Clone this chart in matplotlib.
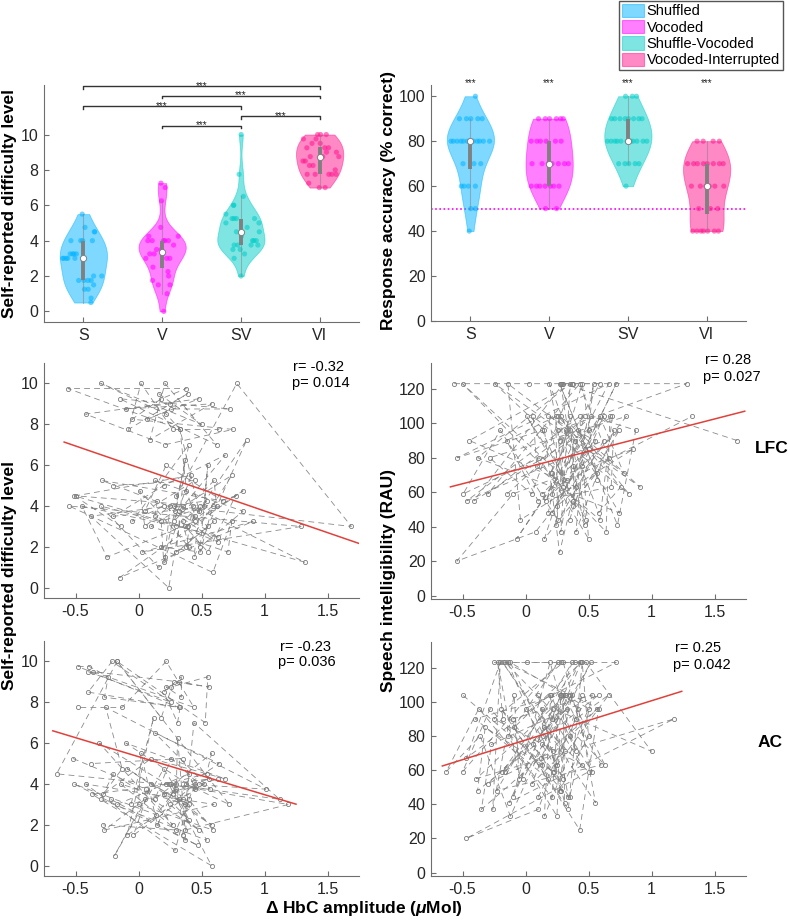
import numpy as np
import matplotlib
matplotlib.use('Agg')
import matplotlib.pyplot as plt
from matplotlib.patches import Patch

plt.rcParams['font.family'] = ['Liberation Sans', 'DejaVu Sans']
plt.rcParams['mathtext.fontset'] = 'custom'
plt.rcParams['mathtext.it'] = 'Liberation Sans:italic:bold'
plt.rcParams['mathtext.rm'] = 'Liberation Sans:bold'

# ---------------- data ----------------
conditions = ['S', 'V', 'SV', 'VI']
legend_labels = ['Shuffled', 'Vocoded', 'Shuffle-Vocoded', 'Vocoded-Interrupted']
cond_colors = ['#00b3ff', '#ff00ff', '#00ccc7', '#ff148c']

# self-reported difficulty per subject (28 subjects)
diff_S = [3.0, 4.5, 1.25, 4.0, 2.0, 5.5, 3.0, 1.75, 3.25, 0.75, 4.0, 3.0, 1.75, 3.25, 0.5, 4.75, 3.25, 1.5,
          4.0, 3.0, 1.25, 3.25, 4.5, 1.75, 3.0, 4.0, 1.75, 2.0]
diff_V = [3.25, 1.0, 4.0, 2.5, 3.75, 6.25, 1.75, 3.0, 4.0, 0.0, 3.5, 4.25, 3.0, 7.25, 1.5, 4.0, 3.25, 2.0, 4.75,
          3.0, 4.0, 1.5, 7.0, 3.25, 4.0, 2.25, 3.5, 4.25]
diff_SV = [5.25, 3.75, 2.0, 6.0, 4.0, 4.5, 5.5, 3.25, 5.25, 4.0, 3.5, 5.0, 6.5, 3.75, 4.5, 10.0, 3.0, 4.0, 3.75,
           7.75, 4.75, 3.5, 5.25, 4.25, 6.0, 3.75, 5.25, 5.0]
diff_VI = [9.5, 8.0, 10.0, 8.5, 7.75, 9.75, 9.75, 9.25, 8.25, 7.75, 7.0, 8.5, 9.25, 8.25, 8.75, 8.75, 9.25, 7.0,
           10.0, 7.25, 9.0, 8.75, 9.0, 9.5, 7.75, 10.0, 7.75, 7.75]

# response accuracy (% correct)
acc_S = [40, 50, 50, 60, 60, 60, 60, 70, 70, 70] + [80] * 12 + [90] * 5 + [100]
acc_V = [50] * 2 + [60] * 7 + [70] * 7 + [80] * 6 + [90] * 6
acc_SV = [60] + [70] * 5 + [80] * 11 + [90] * 8 + [100] * 3
acc_VI = [40] * 7 + [50] * 3 + [60] * 6 + [70] * 8 + [80] * 4

# speech intelligibility (RAU)
rau_S = [123, 123, 123, 123, 123, 71, 96, 41, 90, 55, 104, 33, 80, 59, 96, 44, 104, 90, 55, 63, 96, 37, 75,
         104, 48, 85, 59, 104]
rau_V = [90, 123, 55, 104, 37, 123, 67, 104, 44, 96, 59, 123, 80, 33, 104, 90, 123, 48, 63, 104, 41, 96, 80,
         123, 59, 96, 52, 71]
rau_SV = [59, 104, 96, 41, 123, 71, 52, 123, 85, 25, 96, 123, 63, 104, 48, 80, 123, 37, 96, 59, 104, 75, 44,
          104, 90, 55, 123, 67]
rau_VI = [44, 90, 104, 63, 96, 123, 123, 75, 55, 123, 96, 33, 104, 71, 123, 44, 85, 59, 20, 37, 104, 80, 59,
          123, 90, 63, 104, 48]

# Delta HbC amplitude, LFC (difficulty panel)
lfc_S = [-0.14, -0.51, 1.32, 0.43, 0.38, 0.74, 0.10, 0.71, 0.74, 0.59, -0.55, 1.29, 0.03, 0.91, -0.15, 0.83,
         0.45, -0.25, -0.45, 0.30, 0.20, 0.18, 0.77, 0.55, 0.37, 0.59, 0.49, 0.18]
lfc_V = [0.60, 0.16, -0.30, 0.63, 0.29, 0.37, 0.30, 0.55, 0.35, 0.24, -0.38, 0.54, 0.39, 0.86, 0.44, 0.49,
         0.35, 0.40, 0.01, 0.05, 0.25, 0.21, 0.40, -0.05, 0.20, 0.63, 0.13, 0.15]
lfc_SV = [0.13, 0.83, 0.49, 0.55, 0.52, -0.50, 0.42, 0.28, 0.60, 0.62, -0.20, 0.20, 0.69, 0.32, 0.30, 0.78,
          1.69, 0.28, 0.48, 0.33, 0.38, 0.45, -0.29, 0.67, 0.22, 0.05, 0.45, -0.20]
lfc_VI = [0.16, 0.50, -0.30, 0.22, 0.33, -0.56, 0.38, 0.18, -0.05, 0.75, 0.21, -0.42, 0.48, 0.07, 0.26, 0.73,
          -0.15, 0.62, 0.21, 0.09, 0.58, -0.10, 0.25, 0.39, -0.08, 0.02, 0.27, 0.64]

# Delta HbC amplitude, AC (difficulty panel)
ac_S = [-0.17, 0.40, 0.37, 0.30, 0.15, 0.02, 0.00, 0.59, 0.40, 0.29, -0.42, 0.60, -0.27, 0.05, -0.19, 0.20,
        0.35, -0.04, 0.10, 0.40, 0.54, -0.30, -0.20, 0.48, 0.25, 0.45, 0.30, -0.28]
ac_V = [-0.22, 0.47, -0.51, 0.14, 0.30, 0.31, 0.37, 1.19, 0.24, 0.58, -0.37, 0.56, -0.06, 0.12, -0.09, 0.52,
        0.32, 0.58, -0.09, 0.37, -0.14, 0.35, 0.44, 1.12, 0.26, 0.40, 0.20, 0.63]
ac_SV = [-0.52, 0.06, 0.27, -0.31, 0.22, 0.54, 0.58, 0.13, 0.26, 0.48, 0.27, 0.64, 0.13, 0.57, -0.65, -0.17,
         0.72, 0.38, 1.01, -0.26, -0.13, -0.28, 0.10, 0.69, -0.10, 0.45, 0.35, -0.38]
ac_VI = [-0.40, 0.26, -0.21, -0.40, 0.32, -0.48, -0.39, -0.24, -0.27, 0.33, 0.31, 0.20, 0.34, 0.34, 0.22, 0.26,
         0.55, 0.53, -0.17, 0.18, 0.28, 0.56, 0.32, -0.36, 0.44, 0.22, -0.13, -0.48]

# Delta HbC amplitude, LFC (intelligibility panel)
rlfc_S = [-0.566, 0.03, 0.29, 0.38, 0.59, 0.20, 0.32, 0.24, 0.62, -0.466, 0.43, 0.50, 0.11, -0.495, -0.2, 0.255,
          0.24, -0.15, 0.10, 0.68, 0.70, 0.40, 0.45, 0.62, 0.21, 0.50, 0.13, 1.32]
rlfc_V = [1.68, 0.30, -0.41, 0.67, 0.64, -0.50, 0.33, 0.01, 0.48, 0.355, -0.30, 0.43, 0.66, 0.15, 0.47, 0.27,
          0.19, 0.58, 0.755, 0.26, 0.47, 0.13, -0.54, 0.66, 0.21, 0.745, 0.38, 0.21]
rlfc_SV = [-0.145, 0.52, 0.875, 0.73, 0.27, 0.565, 0.25, 0.72, 0.47, 0.27, 0.15, -0.245, 0.91, 0.28, 0.745,
           -0.38, 0.355, 0.28, 0.42, 0.82, 0.06, 0.09, 0.59, 0.69, 0.39, 0.165, 0.45, 0.57]
rlfc_VI = [0.35, 0.555, 0.18, 0.30, 0.255, 1.28, 0.28, 0.38, 0.38, 0.54, 0.50, -0.07, 0.59, 0.78, -0.14, -0.04,
           0.855, -0.10, -0.545, 0.08, 0.80, -0.285, 0.05, 0.37, -0.445, 0.40, 0.35, 0.18]

# Delta HbC amplitude, AC (intelligibility panel)
rac_S = [-0.25, 0.01, 0.28, 0.39, 0.48, 1.00, 0.22, -0.13, 1.18, -0.39, 0.32, -0.12, -0.36, -0.63, -0.37, 0.21,
         0.27, -0.40, 0.18, 0.13, 0.57, -0.35, -0.27, 0.58, -0.38, -0.32, 0.22, -0.5]
rac_V = [-0.18, -0.22, -0.05, -0.09, -0.26, -0.20, -0.47, 0.195, 0.34, -0.28, -0.50, 0.26, -0.14, 0.25, 0.28,
         0.21, 0.37, -0.23, 0.60, 0.30, 0.31, 0.13, 0.14, 0.43, -0.185, 0.33, -0.30, 0.22]
rac_SV = [-0.16, 0.31, 0.42, 0.555, -0.18, 0.31, 0.05, 0.44, -0.09, 0.43, 0.58, -0.16, 0.63, 0.35, 0.27, 0.50,
          0.45, 0.34, -0.195, 0.23, 0.37, 0.06, 0.35, 0.53, -0.10, -0.02, 0.52, 0.12]
rac_VI = [0.10, 0.40, 0.66, 0.25, 0.00, 0.72, -0.14, 0.13, 0.30, -0.12, 0.50, 0.15, 0.20, 0.40, 0.195, -0.10,
          0.15, 0.50, -0.47, 0.10, 0.45, 0.35, 0.53, 0.30, -0.25, 0.45, 0.10, 0.28]

# regression fits (slope, intercept) and stats
fit_lfc_diff = (-2.12, 5.88)
fit_lfc_rau = (18.8, 74.3)
fit_ac_diff = (-1.86, 5.34)
fit_ac_rau = (23.0, 77.6)
stats_lfc_diff = ('r= -0.32', 'p= 0.014')
stats_lfc_rau = ('r= 0.28', 'p= 0.027')
stats_ac_diff = ('r= -0.23', 'p= 0.036')
stats_ac_rau = ('r= 0.25', 'p= 0.042')

# significance comparisons for difficulty
sig_pairs = [(1, 4), (2, 4), (1, 3), (3, 4), (2, 3)]
sig_heights = [12.75, 12.2, 11.6, 11.05, 10.5]

# ---------------- helpers ----------------
W, H = 790, 921
fig = plt.figure(figsize=(W / 100, H / 100), dpi=100)

AX_COL = '#6e6e6e'
TXT_COL = '#262626'
GRAY = (0.5, 0.5, 0.5)
LINE_GRAY = '#8a8a8a'


def px_axes(x0, y0, x1, y1):
    return fig.add_axes([x0 / W, 1 - y1 / H, (x1 - x0) / W, (y1 - y0) / H])


def style(ax):
    for s in ['top', 'right']:
        ax.spines[s].set_visible(False)
    for s in ['left', 'bottom']:
        ax.spines[s].set_color(AX_COL)
        ax.spines[s].set_linewidth(0.8)
    ax.tick_params(direction='in', length=3.5, width=0.8, color=AX_COL, labelcolor=TXT_COL,
                   labelsize=11.5, pad=4)


def kde(data, grid):
    data = np.asarray(data, float)
    n = len(data)
    sig = np.median(np.abs(data - np.median(data))) / 0.6745
    if sig == 0:
        sig = data.std()
    bw = sig * (4.0 / (3 * n)) ** 0.2
    z = (grid[:, None] - data[None, :]) / bw
    return np.exp(-0.5 * z ** 2).sum(1) / (n * bw * np.sqrt(2 * np.pi))


def violin(ax, data, pos, color, width=0.3):
    data = np.asarray(data, float)
    grid = np.linspace(data.min(), data.max(), 200)
    d = kde(data, grid)
    d = d / d.max() * width
    ax.fill_betweenx(grid, pos - d, pos + d, facecolor=color, alpha=0.5, edgecolor=color, lw=0.6, zorder=2)
    dens_at = np.interp(data, grid, d)
    jit = ((np.arange(len(data)) * 0.618034 + 0.3) % 1.0 - 0.5) * 2
    ax.scatter(pos + jit * dens_at * 0.9, data, s=14, color=color, alpha=0.55, edgecolors='none', zorder=3)
    q1, med, q3 = np.percentile(data, [25, 50, 75])
    iqr = q3 - q1
    lo = data[data >= q1 - 1.5 * iqr].min()
    hi = data[data <= q3 + 1.5 * iqr].max()
    ax.plot([pos, pos], [lo, hi], color=GRAY, lw=0.8, alpha=0.5, zorder=4)
    ax.plot([pos, pos], [q1, q3], color=GRAY, lw=2.8, solid_capstyle='butt', zorder=5)
    ax.scatter([pos], [med], s=20, facecolor='white', edgecolor=GRAY, lw=0.7, zorder=6)


def scatter_panel(ax, xs, ys, fit, stats, stat_px):
    # each condition is drawn as one dashed line through the subjects
    for x, y in zip(xs, ys):
        ax.plot(x, y, linestyle=(0, (7, 5)), lw=0.6, color=LINE_GRAY,
                marker='o', ms=3.0, mfc='none', mec='#7a7a7a', mew=0.6, zorder=2)
    allx = np.concatenate([np.asarray(x, float) for x in xs])
    x0, x1 = allx.min() - 0.03, allx.max() + 0.06
    ax.plot([x0, x1], [fit[0] * x0 + fit[1], fit[0] * x1 + fit[1]], color='#e0413b', lw=1.1, zorder=5)
    (rx, ry), (ppx, ppy) = stat_px
    fig.text(rx / W, 1 - ry / H, stats[0], fontsize=10.5, color='black', ha='left', va='center')
    fig.text(ppx / W, 1 - ppy / H, stats[1], fontsize=10.5, color='black', ha='left', va='center')
    ax.set_xlim(-0.75, 1.75)
    ax.set_xticks([-0.5, 0, 0.5, 1, 1.5])
    ax.set_xticklabels(['-0.5', '0', '0.5', '1', '1.5'])


# ---------------- top-left: difficulty violins ----------------
ax1 = px_axes(44, 85, 359, 322)
style(ax1)
for k, (d, c) in enumerate(zip([diff_S, diff_V, diff_SV, diff_VI], cond_colors)):
    violin(ax1, d, k + 1, c)
ax1.set_xlim(0.5, 4.5)
ax1.set_ylim(-0.6, 12.8)
ax1.set_yticks([0, 2, 4, 6, 8, 10])
ax1.set_xticks([1, 2, 3, 4])
ax1.set_xticklabels(conditions)
for (a, b), h in zip(sig_pairs, sig_heights):
    ax1.plot([a, a, b, b], [h - 0.15, h, h, h - 0.15], color='#333333', lw=1.0, zorder=6, clip_on=False)
    ax1.text((a + b) / 2, h - 0.16, '***', ha='center', va='baseline', fontsize=7, color='#222222')

# ---------------- top-right: accuracy violins ----------------
ax2 = px_axes(431, 85, 746, 321)
style(ax2)
for k, (d, c) in enumerate(zip([acc_S, acc_V, acc_SV, acc_VI], cond_colors)):
    violin(ax2, d, k + 1, c)
    ax2.text(k + 1, 104.6, '***', ha='center', va='baseline', fontsize=7, color='#222222', clip_on=False)
ax2.axhline(50, color='#ff00ff', lw=1.2, linestyle=(0, (1, 1.5)), zorder=1)
ax2.set_xlim(0.5, 4.5)
ax2.set_ylim(0, 105)
ax2.set_yticks([0, 20, 40, 60, 80, 100])
ax2.set_xticks([1, 2, 3, 4])
ax2.set_xticklabels(conditions)

# legend
handles = [Patch(facecolor=c, alpha=0.5, edgecolor=c, lw=0.8) for c in cond_colors]
fig.legend(handles, legend_labels, loc='upper right', bbox_to_anchor=(783 / W, 1 - 1 / H),
           fontsize=10.5, frameon=True, fancybox=False, edgecolor='#555555', framealpha=1,
           borderpad=0.2, labelspacing=0.12, handlelength=1.5, handleheight=1.0, handletextpad=0.2,
           borderaxespad=0)

# ---------------- middle row: LFC ----------------
ax3 = px_axes(44, 363, 359, 598)
style(ax3)
scatter_panel(ax3, [lfc_S, lfc_V, lfc_SV, lfc_VI], [diff_S, diff_V, diff_SV, diff_VI], fit_lfc_diff,
              stats_lfc_diff, ((293, 367), (292, 383)))
ax3.set_ylim(-0.5, 11)
ax3.set_yticks([0, 2, 4, 6, 8, 10])

ax4 = px_axes(431, 363, 746, 599)
style(ax4)
scatter_panel(ax4, [rlfc_S, rlfc_V, rlfc_SV, rlfc_VI], [rau_S, rau_V, rau_SV, rau_VI], fit_lfc_rau,
              stats_lfc_rau, ((705, 360), (703, 377)))
ax4.set_ylim(-2, 135)
ax4.set_yticks([0, 20, 40, 60, 80, 100, 120])

# ---------------- bottom row: AC ----------------
ax5 = px_axes(44, 641, 359, 876)
style(ax5)
scatter_panel(ax5, [ac_S, ac_V, ac_SV, ac_VI], [diff_S, diff_V, diff_SV, diff_VI], fit_ac_diff,
              stats_ac_diff, ((280, 647), (278, 662)))
ax5.set_ylim(-0.5, 11)
ax5.set_yticks([0, 2, 4, 6, 8, 10])

ax6 = px_axes(431, 642, 746, 876)
style(ax6)
scatter_panel(ax6, [rac_S, rac_V, rac_SV, rac_VI], [rau_S, rau_V, rau_SV, rau_VI], fit_ac_rau,
              stats_ac_rau, ((675, 648), (673, 665)))
ax6.set_ylim(-2, 135)
ax6.set_yticks([0, 20, 40, 60, 80, 100, 120])

# ---------------- labels ----------------
lab = dict(fontsize=12.5, fontweight='bold', color='black', ha='center', va='center')
fig.text(10 / W, 1 - 203 / H, 'Self-reported difficulty level', rotation=90, **lab)
fig.text(389 / W, 1 - 200 / H, 'Response accuracy (% correct)', rotation=90, **lab)
fig.text(10 / W, 1 - 575 / H, 'Self-reported difficulty level', rotation=90, **lab)
fig.text(389 / W, 1 - 580 / H, 'Speech intelligibility (RAU)', rotation=90, **lab)
fig.text(364 / W, 1 - 908 / H, r'Δ HbC amplitude ($\mu$Mol)', **lab)
fig.text(772 / W, 1 - 448 / H, 'LFC', **lab)
fig.text(770 / W, 1 - 742 / H, 'AC', **lab)

fig.savefig('out.png', dpi=100)
